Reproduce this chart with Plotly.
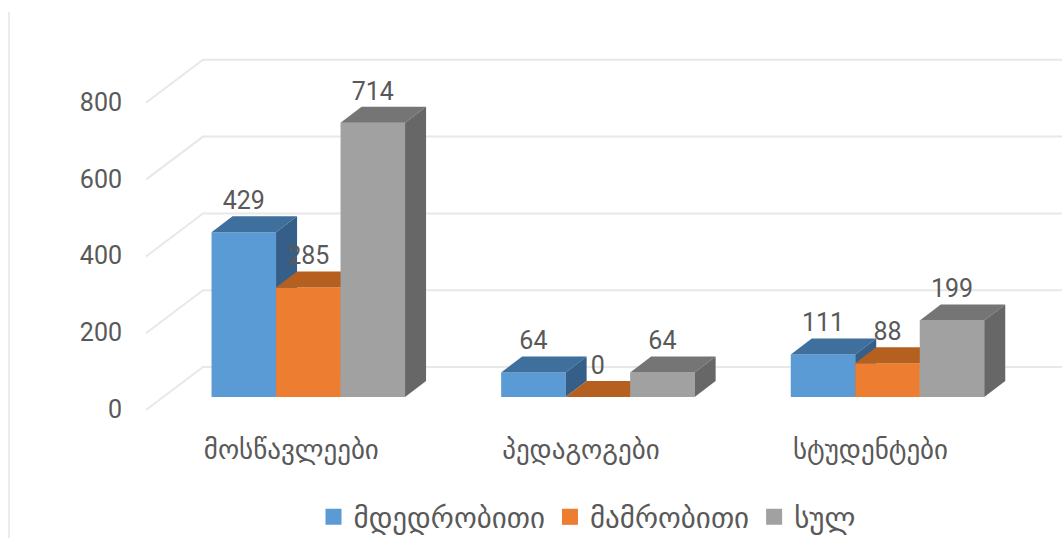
import plotly.graph_objects as go

categories = ["მოსწავლეები", "პედაგოგები", "სტუდენტები"]
series_names = ["მდედრობითი", "მამრობითი", "სულ"]
female = [429, 64, 111]
male = [285, 0, 88]
total = [714, 64, 199]
y_ticks = [0, 200, 400, 600, 800]

FRONT = ["#5B9BD5", "#ED7D31", "#A1A1A1"]
TOP = ["#3F6F9C", "#B5601F", "#757575"]
SIDE = ["#355F88", "#9A5119", "#676767"]
TEXT = "#595959"
GRID = "#E8E8E8"
W, H = 1062, 538
L, R, T, B = 146, 1062, 40, 420
PX_X = 289.6
PX_Y = 0.384
X0_PX, Y0_PX = 308.3, 407
bw = 64.5 / PX_X
dx, dy = 21 / PX_X, 16 / PX_Y
base = 10 / PX_Y
wall_dx, wall_dy = 57 / PX_X, 40 / PX_Y
wall_front = -3 / PX_Y

xr = [(L - X0_PX) / PX_X, (R - X0_PX) / PX_X]
yr = [(Y0_PX - B) / PX_Y, (Y0_PX - T) / PX_Y]
xs = list(range(len(categories)))
fig = go.Figure()

# back wall gridlines (base axes, beneath all overlay axes)
for v in y_ticks:
    fig.add_trace(go.Scatter(
        x=[xr[0], xr[0] + wall_dx, xr[1]],
        y=[v + wall_front, v + wall_dy, v + wall_dy],
        mode="lines", line=dict(color=GRID, width=2), showlegend=False, hoverinfo="skip"))

for i, (name, vals) in enumerate(zip(series_names, [female, male, total])):
    suf = str(i + 2)
    xa, ya = "x" + suf, "y" + suf
    off = (i - 1.5) * bw
    fig.add_trace(go.Bar(x=xs, y=vals, base=base, width=bw, offset=off, name=name,
                         showlegend=False,
                         marker=dict(color=FRONT[i], line=dict(width=0)),
                         xaxis=xa, yaxis=ya))
    for c, v in zip(xs, vals):
        a, b = c + off, c + off + bw
        top = v + base
        fig.add_trace(go.Scatter(
            x=[a, b, b + dx, a + dx, a], y=[top, top, top + dy, top + dy, top],
            fill="toself", fillcolor=TOP[i], mode="none", showlegend=False,
            hoverinfo="skip", xaxis=xa, yaxis=ya))
        fig.add_trace(go.Scatter(
            x=[b, b + dx, b + dx, b, b], y=[base, base + dy, top + dy, top, base],
            fill="toself", fillcolor=SIDE[i], mode="none", showlegend=False,
            hoverinfo="skip", xaxis=xa, yaxis=ya))
    # legend key
    fig.add_trace(go.Scatter(x=[None], y=[None], mode="markers", name=name,
                             marker=dict(symbol="square", size=16, color=FRONT[i])))

# data labels, topmost layer
for i, vals in enumerate([female, male, total]):
    fig.add_trace(go.Scatter(
        x=[c + (i - 1) * bw for c in xs], y=[v + base + dy + 1 / PX_Y for v in vals],
        text=[str(v) for v in vals], mode="text", textposition="top center",
        textfont=dict(family="Roboto", size=25, color=TEXT), showlegend=False,
        hoverinfo="skip", xaxis="x4", yaxis="y4"))

layout_axes = {}
for n in (2, 3, 4):
    layout_axes[f"xaxis{n}"] = dict(overlaying="x", range=xr, visible=False, anchor=f"y{n}")
    layout_axes[f"yaxis{n}"] = dict(overlaying="y", range=yr, visible=False, anchor=f"x{n}")

fig.update_layout(
    width=W, height=H,
    margin=dict(l=L, r=W - R, t=T, b=H - B, autoexpand=False),
    paper_bgcolor="white", plot_bgcolor="white",
    xaxis=dict(range=xr, tickmode="array", tickvals=[c - 17 / PX_X for c in xs], ticktext=categories,
               showgrid=False, zeroline=False, showline=False, ticks="outside", ticklen=6,
               tickcolor="rgba(0,0,0,0)", tickfont=dict(family="DejaVu Sans", size=27, color=TEXT)),
    yaxis=dict(range=yr, tickmode="array", tickvals=[v - 6 for v in y_ticks],
               ticktext=[str(v) for v in y_ticks], showgrid=False, zeroline=False,
               showline=False, ticks="outside", ticklen=18, tickcolor="rgba(0,0,0,0)",
               tickfont=dict(family="Roboto", size=25, color=TEXT)),
    legend=dict(orientation="h", x=(587 - L) / (R - L), xanchor="center",
                y=(B - 517) / (B - T), yanchor="middle", itemwidth=30,
                font=dict(family="DejaVu Sans", size=29, color=TEXT)),
    shapes=[dict(type="line", xref="paper", yref="paper",
                 x0=(9 - L) / (R - L), x1=(9 - L) / (R - L),
                 y0=(B - H) / (B - T), y1=(B - 12) / (B - T),
                 line=dict(color="#ECECEC", width=2))],
    **layout_axes,
)
fig.write_html("out.html", config={"displayModeBar": False},
               post_script="document.body.style.margin='0';")
